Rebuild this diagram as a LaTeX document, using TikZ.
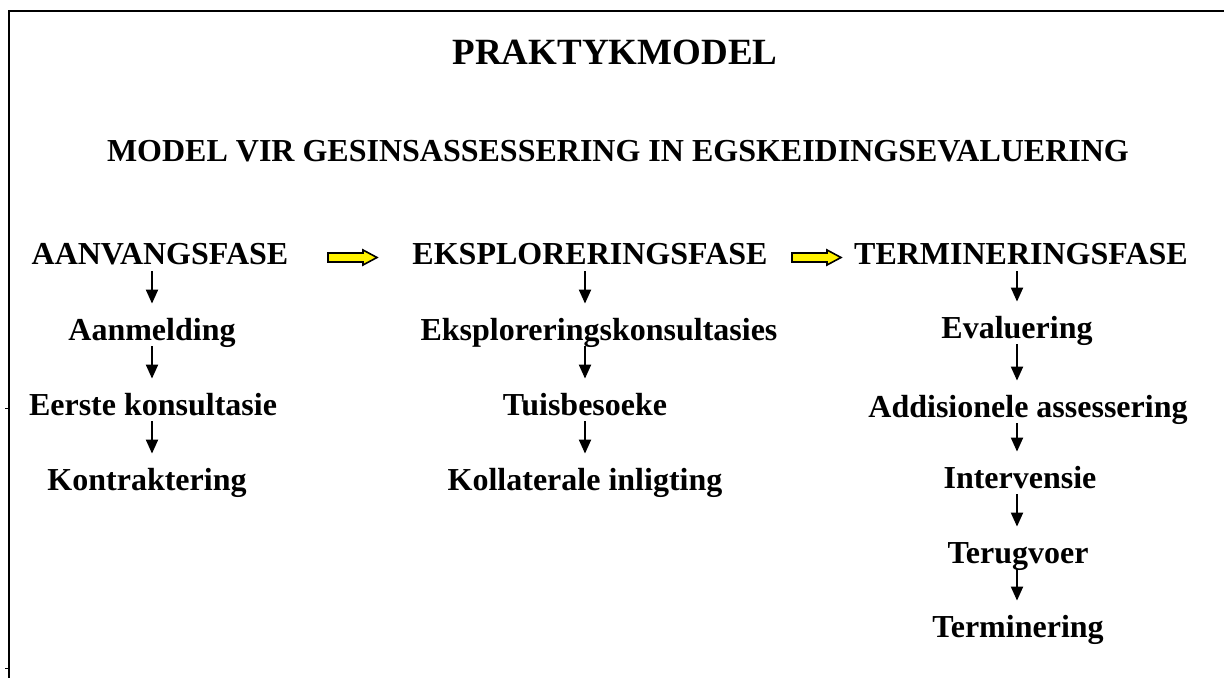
\documentclass[tikz,border=0pt]{standalone}
\usepackage{fontspec}
\setmainfont{Liberation Serif}
\usetikzlibrary{arrows.meta}

\tikzset{
  heading/.style={font=\fontsize{18.5}{22}\selectfont\bfseries, inner sep=0pt, anchor=base},
  subheading/.style={font=\fontsize{16}{19}\selectfont\bfseries, inner sep=0pt, anchor=base},
  stage/.style={font=\fontsize{16}{19}\selectfont\bfseries, inner sep=0pt, anchor=base,
    text height=18pt, text depth=3pt},
  flow/.style={-{Triangle[width=6pt,length=7pt]}, line width=1pt},
  yellowarrow/.style={fill=yellow, draw=black, line width=0.8pt}
}

\begin{document}
\begin{tikzpicture}[x=0.5pt,y=-0.5pt]
    \useasboundingbox (0,0) rectangle (1224,678);

    % Frame
    \draw[line width=1pt] (8.5,678) -- (8.5,11) -- (1224,11);
    \draw[line width=0.3pt] (5,408) -- (8.5,408);
    \draw[line width=0.3pt] (5,668) -- (8.5,668);

    % Titles
    \node[heading] (title) at (615,65) {PRAKTYKMODEL};
    \node[subheading] (subtitle) at (618,162) {MODEL VIR GESINSASSESSERING IN EGSKEIDINGSEVALUERING};

    % Column positions of the arrows
    \coordinate (c1) at (152,0);
    \coordinate (c2) at (585,0);
    \coordinate (c3) at (1017,0);

    % Phases
    \node[stage] (a0) at (160,265) {AANVANGSFASE};
    \node[stage] (e0) at (590,265) {EKSPLORERINGSFASE};
    \node[stage] (t0) at (1021,265) {TERMINERINGSFASE};

    % Yellow arrows between phases
    \foreach \s in {328,792}
        \filldraw[yellowarrow] (\s,253) -- (\s+35,253) -- (\s+35,250) -- (\s+49,257.5)
            -- (\s+35,265) -- (\s+35,262) -- (\s,262) -- cycle;

    % Aanvangsfase
    \node[stage] (a1) at (152,340) {Aanmelding};
    \node[stage] (a2) at (153,415) {Eerste konsultasie};
    \node[stage] (a3) at (147,490) {Kontraktering};

    % Eksploreringsfase
    \node[stage] (e1) at (599,340) {Eksploreringskonsultasies};
    \node[stage] (e2) at (585,415) {Tuisbesoeke};
    \node[stage] (e3) at (585,490) {Kollaterale inligting};

    % Termineringsfase
    \node[stage] (t1) at (1017,338) {Evaluering};
    \node[stage] (t2) at (1028,417) {Addisionele assessering};
    \node[stage] (t3) at (1020,488) {Intervensie};
    \node[stage] (t4) at (1018,563) {Terugvoer};
    \node[stage] (t5) at (1018,637) {Terminering};

    % Arrows down each column
    \foreach \u/\v in {a0/a1, a1/a2, a2/a3}
        \draw[flow] (\u.south -| c1) -- (\v.north -| c1);
    \foreach \u/\v in {e0/e1, e1/e2, e2/e3}
        \draw[flow] (\u.south -| c2) -- (\v.north -| c2);
    \foreach \u/\v in {t0/t1, t1/t2, t2/t3, t3/t4, t4/t5}
        \draw[flow] (\u.south -| c3) -- (\v.north -| c3);
\end{tikzpicture}
\end{document}
